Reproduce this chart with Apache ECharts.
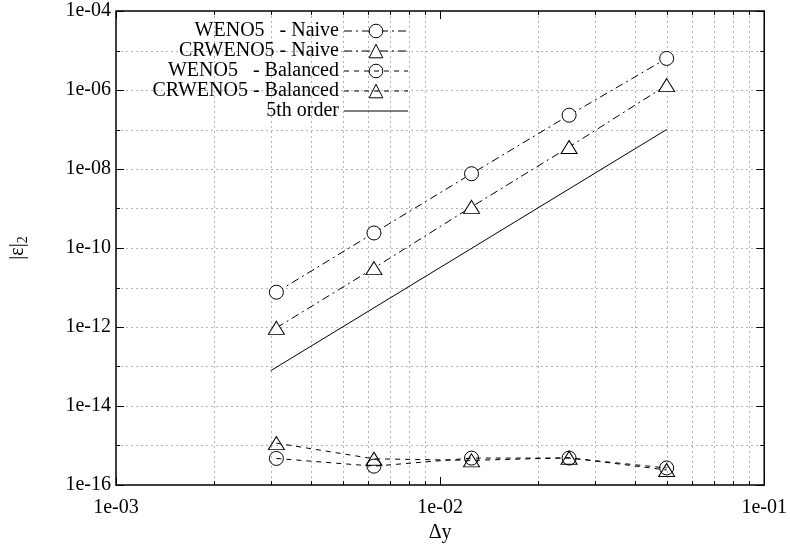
<!DOCTYPE html>
<html>
<head>
<meta charset="utf-8">
<script src="https://cdn.jsdelivr.net/npm/echarts@6/dist/echarts.min.js"></script>
<style>
  html, body { margin: 0; padding: 0; background: #fff; }
  #chart { width: 790px; height: 548px; }
</style>
</head>
<body>
<div id="chart"></div>
<script>
// Grid spacing and the L2 error of each scheme
const dy = [0.003125, 0.00625, 0.0125, 0.025, 0.05];
const wenoNaive = [7.6e-12, 2.4e-10, 7.6e-9, 2.3e-7, 6.3e-6];
const crwenoNaive = [9.5e-13, 3.1e-11, 1.1e-9, 3.6e-8, 1.33e-6];
const wenoBalanced = [4.7e-16, 3.0e-16, 4.8e-16, 4.8e-16, 2.7e-16];
const crwenoBalanced = [1.15e-15, 4.6e-16, 4.2e-16, 4.9e-16, 2.4e-16];

// Reference slope line
const fifthOrderDy = [0.003, 0.05];
const fifthOrderErr = [7.8e-14, 1.0e-7];

// Tick positions
const xMajorTicks = [1e-3, 1e-2, 1e-1];
const xMinorTicks = [2e-3, 3e-3, 4e-3, 5e-3, 6e-3, 7e-3, 8e-3, 9e-3,
                     2e-2, 3e-2, 4e-2, 5e-2, 6e-2, 7e-2, 8e-2, 9e-2];
const yMajorTicks = [1e-16, 1e-14, 1e-12, 1e-10, 1e-8, 1e-6, 1e-4];
const yMinorTicks = [1e-15, 1e-13, 1e-11, 1e-9, 1e-7, 1e-5];

const FONT = 'Liberation Serif';

function pairs(xs, ys) { return xs.map((x, i) => [x, ys[i]]); }

function expLabel(v) {
  const e = Math.round(Math.log10(v));
  return '1e' + (e < 0 ? '-' : '+') + String(Math.abs(e)).padStart(2, '0');
}

// Rows for the guide layer: [x, y, orientation (0 vertical / 1 horizontal), major, gridline]
const guideRows = [];
xMajorTicks.forEach(v => guideRows.push([v, 1e-10, 0, 1, 0]));
xMinorTicks.forEach(v => guideRows.push([v, 1e-10, 0, 0, 1]));
yMajorTicks.forEach(v => guideRows.push([1e-2, v, 1, 1, (v > 1e-16 && v < 1e-4) ? 1 : 0]));
yMinorTicks.forEach(v => guideRows.push([1e-2, v, 1, 0, 1]));

function renderGuide(params, api) {
  const cs = params.coordSys;
  const orient = api.value(2), major = api.value(3), grid = api.value(4);
  const len = major ? 8 : 4;
  const gridStyle = { stroke: '#b4b4b4', lineWidth: 1, lineDash: [2, 3] };
  const tickStyle = { stroke: '#000', lineWidth: 1 };
  const left = cs.x, right = cs.x + cs.width, top = cs.y, bottom = cs.y + cs.height;
  const p = api.coord([api.value(0), api.value(1)]);
  const children = [];
  if (orient === 0) {
    const x = Math.round(p[0]) + 0.5;
    if (grid) children.push({ type: 'line', shape: { x1: x, y1: top, x2: x, y2: bottom }, style: gridStyle });
    children.push({ type: 'line', shape: { x1: x, y1: bottom, x2: x, y2: bottom - len }, style: tickStyle });
    children.push({ type: 'line', shape: { x1: x, y1: top, x2: x, y2: top + len }, style: tickStyle });
  } else {
    const y = Math.round(p[1]) + 0.5;
    if (grid) children.push({ type: 'line', shape: { x1: left, y1: y, x2: right, y2: y }, style: gridStyle });
    children.push({ type: 'line', shape: { x1: left, y1: y, x2: left + len, y2: y }, style: tickStyle });
    children.push({ type: 'line', shape: { x1: right, y1: y, x2: right - len, y2: y }, style: tickStyle });
  }
  return { type: 'group', children };
}

const dashDot = [8, 4, 2, 4];
const dashed = [5, 5];

const chart = echarts.init(document.getElementById('chart'), null, { renderer: 'canvas' });

chart.setOption({
  animation: false,
  backgroundColor: '#fff',
  textStyle: { fontFamily: FONT, color: '#000' },
  grid: {
    left: 111, right: 22, top: 11, bottom: 63,
    show: true, borderColor: '#000', borderWidth: 1.5, backgroundColor: 'transparent'
  },
  legend: {
    orient: 'vertical',
    left: 144, top: 21,
    padding: 0,
    align: 'right',
    itemWidth: 64, itemHeight: 17, itemGap: 0,
    selectedMode: false,
    itemStyle: { borderWidth: 1 },
    lineStyle: { width: 1 },
    textStyle: { fontFamily: FONT, fontSize: 20, color: '#000', width: 195, lineHeight: 18 },
    data: [
      { name: 'WENO5   - Naive' },
      { name: 'CRWENO5 - Naive' },
      { name: 'WENO5   - Balanced' },
      { name: 'CRWENO5 - Balanced' },
      { name: '5th order', itemStyle: { opacity: 0 } }
    ]
  },
  xAxis: {
    type: 'log', logBase: 10, min: 1e-3, max: 1e-1,
    name: 'Δy', nameLocation: 'middle', nameGap: 26,
    nameTextStyle: { fontFamily: FONT, fontSize: 20, color: '#000' },
    axisLine: { show: false }, axisTick: { show: false }, splitLine: { show: false },
    axisLabel: { fontFamily: FONT, fontSize: 20, color: '#000', margin: 13, formatter: expLabel }
  },
  yAxis: {
    type: 'log', logBase: 10, min: 1e-16, max: 1e-4, interval: 2,
    name: '|ε|{s|2}', nameLocation: 'middle', nameGap: 86, nameRotate: 90,
    nameTextStyle: {
      fontFamily: FONT, fontSize: 20, color: '#000',
      rich: { s: { fontFamily: FONT, fontSize: 14, color: '#000', verticalAlign: 'bottom', padding: [10, 0, 0, 0] } }
    },
    axisLine: { show: false }, axisTick: { show: false }, splitLine: { show: false },
    axisLabel: { fontFamily: FONT, fontSize: 20, color: '#000', margin: 5, formatter: expLabel }
  },
  series: [
    {
      type: 'custom', name: 'guides', z: 1, silent: true, clip: false,
      renderItem: renderGuide, encode: { x: 0, y: 1 }, data: guideRows
    },
    {
      name: 'WENO5   - Naive', type: 'line', z: 3, data: pairs(dy, wenoNaive),
      symbol: 'circle', symbolSize: 14,
      itemStyle: { color: '#fff', borderColor: '#000', borderWidth: 1 },
      lineStyle: { color: '#000', width: 1, type: dashDot }
    },
    {
      name: 'CRWENO5 - Naive', type: 'line', z: 3, data: pairs(dy, crwenoNaive),
      symbol: 'triangle', symbolSize: [16, 13],
      itemStyle: { color: '#fff', borderColor: '#000', borderWidth: 1 },
      lineStyle: { color: '#000', width: 1, type: dashDot }
    },
    {
      name: 'WENO5   - Balanced', type: 'line', z: 3, data: pairs(dy, wenoBalanced),
      symbol: 'circle', symbolSize: 14,
      itemStyle: { color: 'rgba(255,255,255,0)', borderColor: '#000', borderWidth: 1 },
      lineStyle: { color: '#000', width: 1, type: dashed }
    },
    {
      name: 'CRWENO5 - Balanced', type: 'line', z: 3, data: pairs(dy, crwenoBalanced),
      symbol: 'triangle', symbolSize: [16, 13],
      itemStyle: { color: 'rgba(255,255,255,0)', borderColor: '#000', borderWidth: 1 },
      lineStyle: { color: '#000', width: 1, type: dashed }
    },
    {
      name: '5th order', type: 'line', z: 2, data: pairs(fifthOrderDy, fifthOrderErr),
      symbol: 'none',
      itemStyle: { color: '#000' },
      lineStyle: { color: '#000', width: 1, type: 'solid' }
    }
  ]
});
</script>
</body>
</html>
